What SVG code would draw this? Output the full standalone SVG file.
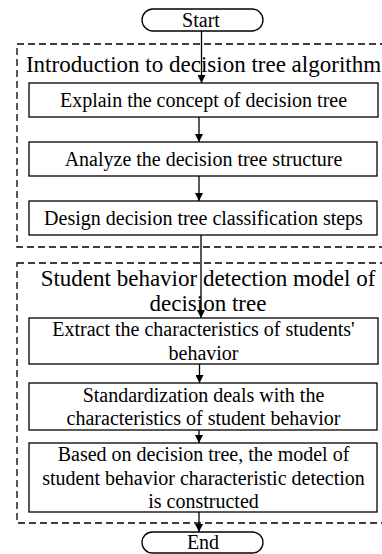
<svg xmlns="http://www.w3.org/2000/svg" width="382" height="554" viewBox="0 0 382 554">
<style>
.bg{fill:#fff}
.grp{fill:none;stroke:#000;stroke-width:1.3;stroke-dasharray:7 4}
.box{fill:#fff;stroke:#000;stroke-width:1.3}
.term{fill:#fff;stroke:#000;stroke-width:1.3}
.t{font-family:"Liberation Serif","Times New Roman","DejaVu Serif",serif;font-size:20px;fill:#000;text-anchor:middle}
.title{font-family:"Liberation Serif","Times New Roman","DejaVu Serif",serif;font-size:23px;fill:#000;text-anchor:middle}
.edge{stroke:#000;stroke-width:1.3;fill:none;marker-end:url(#ah)}
</style>
<defs>
<marker id="ah" viewBox="0 0 10 10" refX="10" refY="5" markerWidth="8" markerHeight="8" markerUnits="userSpaceOnUse" orient="auto">
<path d="M0,0 L10,5 L0,10 z" fill="#000"/>
</marker>
</defs>
<rect class="bg" x="0" y="0" width="382" height="554"/>
<g id="group1">
<rect class="grp" x="17" y="44" width="380" height="203"/>
<text class="title" x="203.5" y="72">Introduction to decision tree algorithm</text>
</g>
<g id="group2">
<rect class="grp" x="17" y="263" width="380" height="260"/>
<text class="title" x="208" y="286">Student behavior detection model of</text>
<text class="title" x="208" y="311">decision tree</text>
</g>
<g id="start">
<rect class="term" x="142" y="9" width="121" height="22" rx="11" ry="11"/>
<text class="t" x="201" y="26.5">Start</text>
</g>
<g id="explain">
<rect class="box" x="29" y="83" width="349" height="34"/>
<text class="t" x="203.5" y="107">Explain the concept of decision tree</text>
</g>
<g id="analyze">
<rect class="box" x="29" y="142" width="348" height="34"/>
<text class="t" x="203.5" y="166">Analyze the decision tree structure</text>
</g>
<g id="design">
<rect class="box" x="29" y="201" width="348" height="34"/>
<text class="t" x="203.5" y="225">Design decision tree classification steps</text>
</g>
<g id="extract">
<rect class="box" x="29" y="318" width="349" height="46"/>
<text class="t" x="203.5" y="336">Extract the characteristics of students'</text>
<text class="t" x="203.5" y="360">behavior</text>
</g>
<g id="standard">
<rect class="box" x="29" y="383" width="348" height="47"/>
<text class="t" x="203.5" y="401.5">Standardization deals with the</text>
<text class="t" x="203.5" y="425">characteristics of student behavior</text>
</g>
<g id="based">
<rect class="box" x="29" y="443" width="348" height="69"/>
<text class="t" x="203.5" y="461">Based on decision tree, the model of</text>
<text class="t" x="203.5" y="484.5">student behavior characteristic detection</text>
<text class="t" x="203.5" y="508">is constructed</text>
</g>
<g id="end">
<rect class="term" x="142" y="532" width="121" height="21" rx="10.5" ry="10.5"/>
<text class="t" x="203" y="549">End</text>
</g>
<g id="connectors">
<line class="edge" x1="201.5" y1="31" x2="201.5" y2="83"/>
<line class="edge" x1="199" y1="117" x2="199" y2="142"/>
<line class="edge" x1="199" y1="176" x2="199" y2="201"/>
<line class="edge" x1="201" y1="235" x2="201" y2="318"/>
<line class="edge" x1="199.5" y1="364" x2="199.5" y2="383"/>
<line class="edge" x1="199" y1="430" x2="199" y2="443"/>
<line class="edge" x1="199" y1="512" x2="199" y2="532"/>
</g>
</svg>
